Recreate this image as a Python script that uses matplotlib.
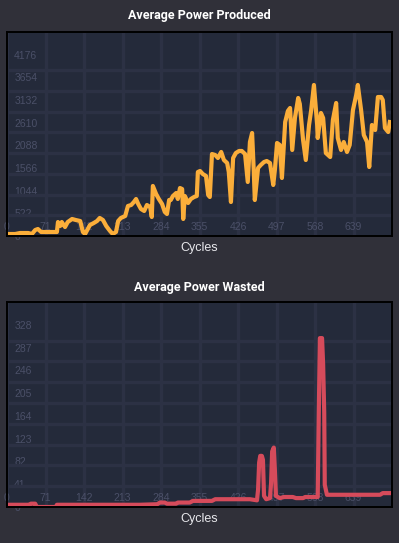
import matplotlib
matplotlib.use("Agg")
import matplotlib.pyplot as plt
import numpy as np

# Average power produced (cycle, power)
produced_cycles = [0, 15, 24, 39, 46, 52, 57, 63, 79, 92, 94, 98, 101, 107, 112, 120, 127, 135,
                   140, 144, 148, 153, 160, 166, 171, 177, 183, 190, 195, 201, 205, 210, 218, 223,
                   229, 234, 238, 242, 247, 253, 258, 264, 267, 269, 275, 280, 286, 291, 295, 299,
                   302, 306, 312, 315, 319, 323, 325, 328, 334, 339, 345, 350, 352, 356, 361, 367,
                   371, 374, 378, 384, 389, 395, 400, 406, 409, 413, 417, 422, 428, 433, 439, 444,
                   448, 452, 455, 457, 463, 468, 474, 479, 485, 491, 494, 498, 503, 507, 513, 518,
                   522, 526, 531, 537, 540, 546, 551, 557, 561, 566, 572, 573, 579, 583, 588, 596,
                   601, 607, 610, 616, 621, 627, 632, 638, 644, 647, 653, 658, 664, 668, 673, 679,
                   684, 690, 693, 697, 703, 706]
produced_power = [46, 46, 69, 69, 46, 138, 161, 92, 92, 92, 322, 230, 322, 207, 322, 392, 368, 345,
                  92, 46, 138, 253, 299, 345, 415, 368, 230, 115, 46, 92, 345, 415, 461, 691,
                  714, 783, 852, 737, 622, 576, 714, 668, 438, 1152, 967, 852, 737, 553, 507, 829,
                  829, 921, 990, 852, 1105, 1082, 392, 921, 760, 852, 898, 921, 1474, 1497, 1428, 1382,
                  944, 898, 1888, 1865, 1796, 1935, 1750, 1681, 1474, 783, 1796, 1911, 1958, 1958, 1888, 1244,
                  2165, 2372, 1520, 829, 1566, 1635, 1704, 1727, 1681, 1175, 1520, 2142, 2096, 1336, 2625, 2879,
                  2948, 1981, 2718, 3178, 3040, 2211, 1750, 2556, 2902, 3478, 2556, 2257, 2833, 2718, 1911, 1819,
                  2672, 3063, 2257, 1981, 2165, 1935, 2096, 2902, 3247, 3478, 2902, 2326, 2165, 1589, 2556, 2441,
                  3201, 3201, 3132, 2487, 2395, 2625]

# Average power wasted (cycle, power)
wasted_cycles = [2, 24, 41, 44, 52, 53, 55, 90, 92, 171, 245, 277, 282, 291, 295, 312, 315, 337,
                 343, 378, 384, 448, 461, 463, 465, 467, 470, 472, 474, 478, 485, 487, 489, 492,
                 494, 496, 503, 511, 527, 533, 546, 550, 573, 575, 577, 581, 583, 585, 586, 590,
                 605, 632, 660, 688, 693, 706]
wasted_power = [4, 4, 4, 6, 6, 4, 0, 0, 4, 4, 4, 5, 8, 8, 6, 6, 8, 8,
                11, 11, 14, 14, 12, 31, 80, 92, 92, 85, 20, 14, 16, 43, 100, 107,
                67, 20, 16, 18, 18, 16, 16, 18, 18, 170, 304, 304, 257, 170, 40, 22,
                22, 22, 22, 22, 25, 25]

x_ticks = [0, 71, 142, 213, 284, 355, 426, 497, 568, 639]
produced_ticks = [0, 522, 1044, 1566, 2088, 2610, 3132, 3654, 4176]
wasted_ticks = [0, 41, 82, 123, 164, 205, 246, 287, 328]

FIG_BG = "#303039"
AX_BG = "#242a3a"
GRID = "#2c3144"
TICK_C = "#4b5068"

plt.rcParams["font.family"] = ["Liberation Sans", "DejaVu Sans"]

fig = plt.figure(figsize=(3.99, 5.43), dpi=100, facecolor=FIG_BG)
ax1 = fig.add_axes([7 / 399, 1 - 236 / 543, 385 / 399, 204 / 543])
ax2 = fig.add_axes([7 / 399, 1 - 507 / 543, 385 / 399, 205 / 543])


def style(ax, x, y, yticks, color, title, title_y, label_y):
    step = yticks[1] - yticks[0]
    ymax = step * 9
    ax.set_facecolor(AX_BG)
    ax.plot(x, y, color=color, lw=3, zorder=3)
    ax.set_xlim(0, 710)
    ax.set_ylim(0, ymax)
    ax.set_axisbelow(True)
    ax.set_xticks(x_ticks)
    ax.set_xticklabels([str(t) for t in x_ticks], va="center")
    ax.set_yticks(yticks)
    ax.set_yticklabels([str(t) for t in yticks], ha="left")
    ax.set_yticks([ymax * 0.1015 * k for k in range(1, 9)], minor=True)
    ax.tick_params(axis="both", which="both", length=0, colors=TICK_C, labelsize=7.5)
    ax.tick_params(axis="x", pad=-6.2)
    ax.tick_params(axis="y", pad=-5.2)
    ax.grid(True, axis="x", which="major", color=GRID, lw=2.4)
    ax.grid(True, axis="y", which="minor", color=GRID, lw=2.4)
    for sp in ax.spines.values():
        sp.set_color("black")
        sp.set_linewidth(1.4)
        sp.set_zorder(4)
    fig.text(0.5, title_y, title, ha="center", va="center", color="white",
             fontsize=9, fontweight="bold", family=["Roboto", "DejaVu Sans"])
    fig.text(0.5, label_y, "Cycles", ha="center", va="center", color="#e8e8ec", fontsize=9)


style(ax1, produced_cycles, produced_power, produced_ticks, "#fbae3a",
      "Average Power Produced", 1 - 16 / 543, 1 - 248 / 543)
style(ax2, wasted_cycles, wasted_power, wasted_ticks, "#d64b5b",
      "Average Power Wasted", 1 - 287 / 543, 1 - 519 / 543)

fig.savefig("out.png", dpi=100, facecolor=FIG_BG)
